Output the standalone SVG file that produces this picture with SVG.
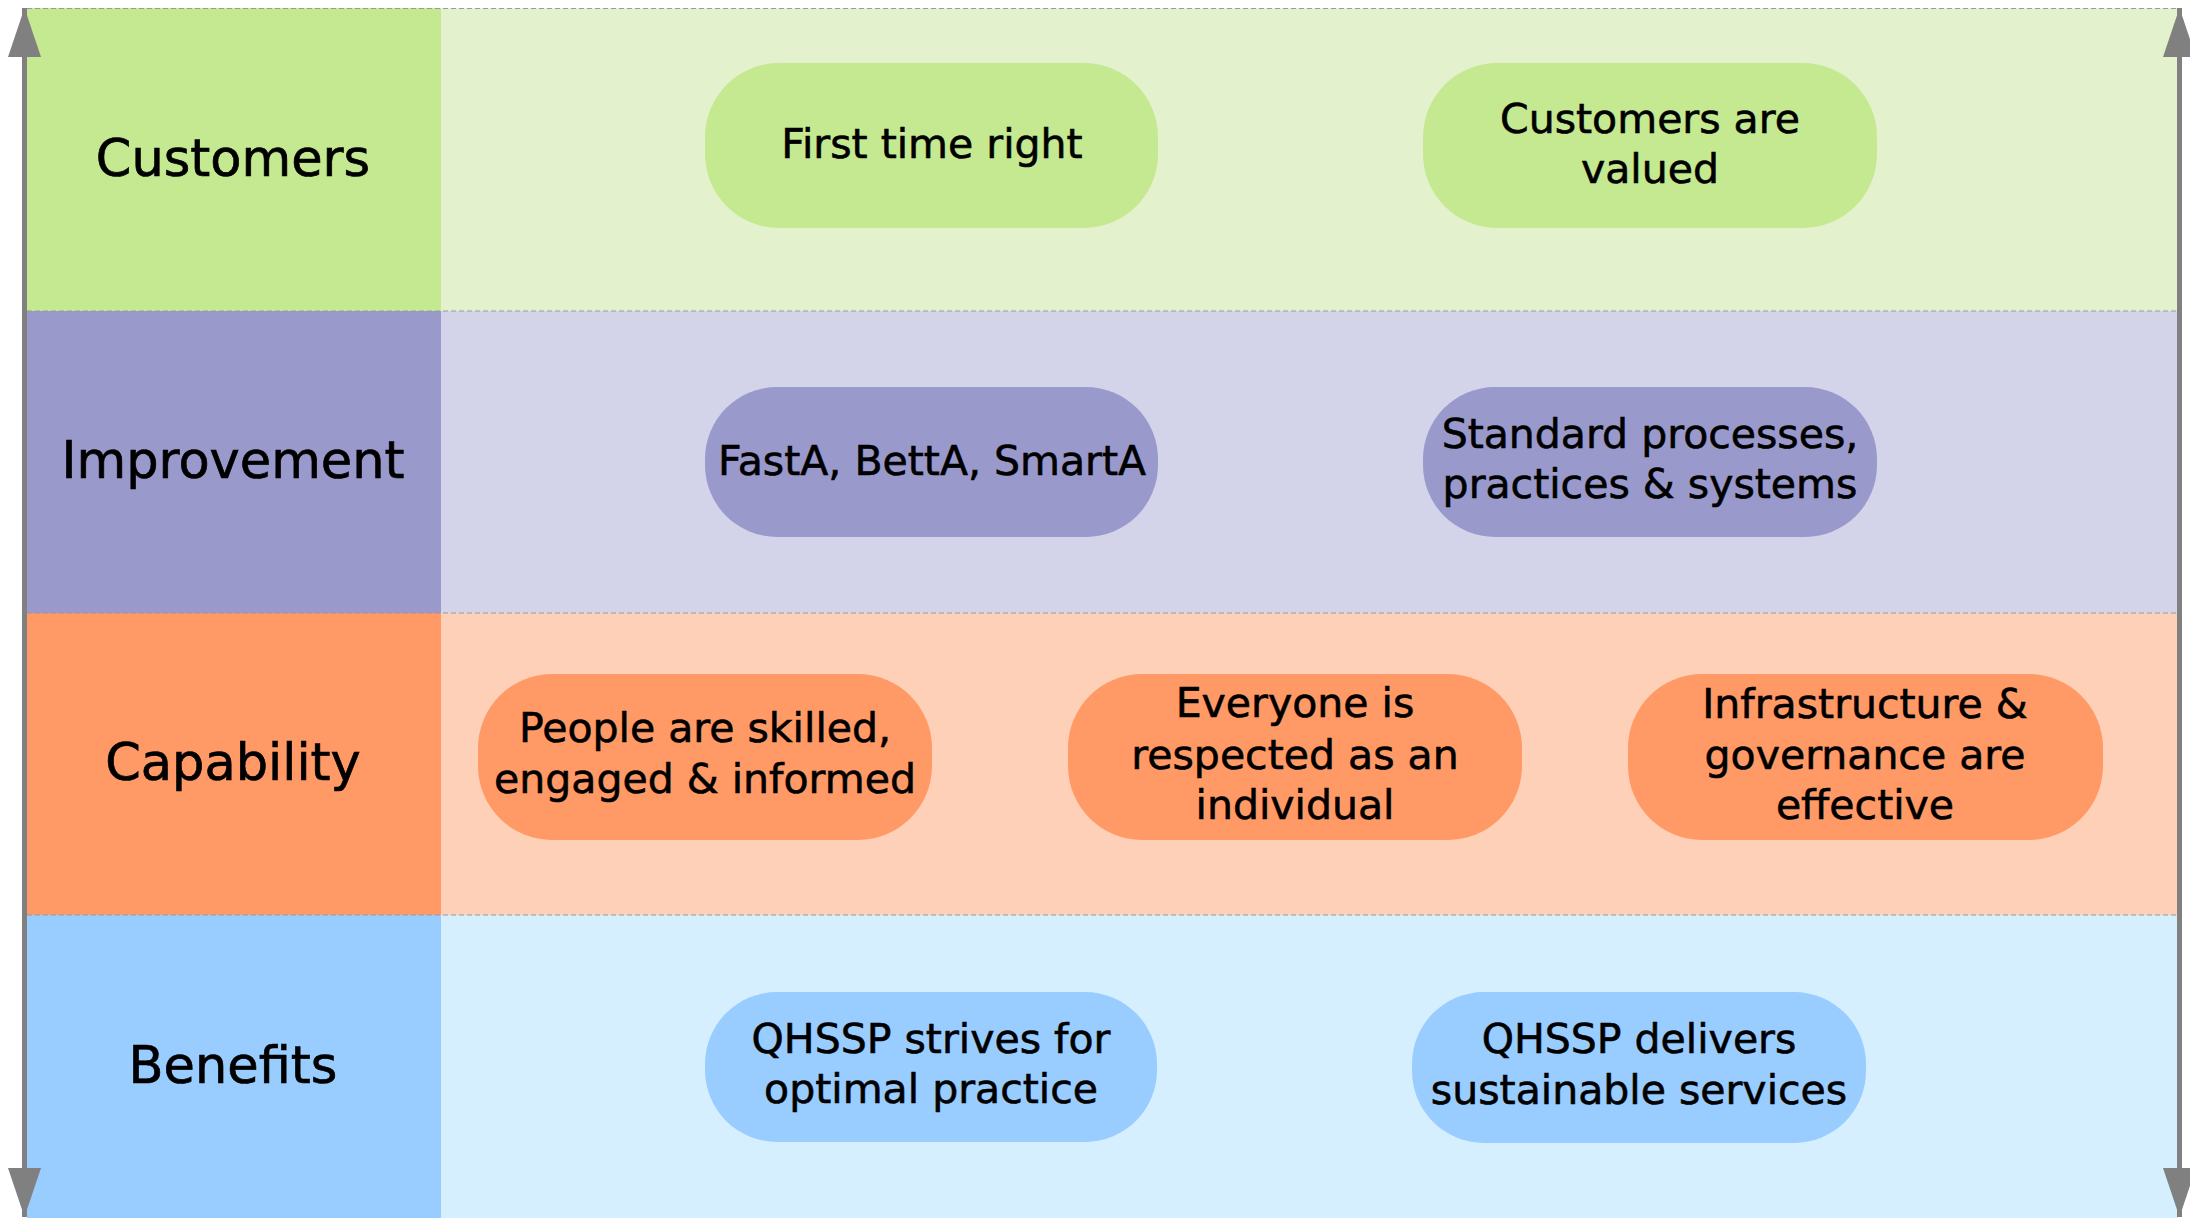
<svg xmlns="http://www.w3.org/2000/svg" width="2190" height="1218" viewBox="0 0 2190 1218">
<style>
.lbl{font-family:"DejaVu Sans","Liberation Sans",sans-serif;font-size:51px;fill:#000;stroke:#000;stroke-width:0.7;text-anchor:middle}
.nt{font-family:"DejaVu Sans","Liberation Sans",sans-serif;font-size:41px;fill:#000;stroke:#000;stroke-width:0.6;text-anchor:middle}
.dash{stroke:#9a9a9a;stroke-width:1.2;stroke-dasharray:5 3;fill:none}
.ax{stroke:#808080;stroke-width:5;fill:none}
.g1{fill:#C5E991}.g2{fill:#E3F2CC}
.p1{fill:#9999CC}.p2{fill:#D3D3EA}
.o1{fill:#FF9966}.o2{fill:#FFD0B8}
.b1{fill:#99CCFF}.b2{fill:#D5EFFF}
</style>
<defs>
<marker id="ah" viewBox="0 0 49 33" refX="49" refY="16.5" markerWidth="49" markerHeight="33" markerUnits="userSpaceOnUse" orient="auto-start-reverse">
<path d="M0,0 L49,16.5 L0,33 Z" fill="#808080"/>
</marker>
</defs>
<rect width="2190" height="1218" fill="#fff"/>
<g id="rows">
<rect class="g1" x="27" y="8" width="414" height="303"/>
<rect class="g2" x="441" y="8" width="1737" height="303"/>
<rect class="p1" x="27" y="311" width="414" height="302"/>
<rect class="p2" x="441" y="311" width="1737" height="302"/>
<rect class="o1" x="27" y="613" width="414" height="302"/>
<rect class="o2" x="441" y="613" width="1737" height="302"/>
<rect class="b1" x="27" y="915" width="414" height="303"/>
<rect class="b2" x="441" y="915" width="1737" height="303"/>
<path class="dash" d="M27,8.5 H2180 M27,311 H2180 M27,613 H2180 M27,915 H2180"/>
</g>
<g id="label-customers"><text class="lbl" x="233" y="176">Customers</text></g>
<g id="label-improvement"><text class="lbl" x="233" y="478">Improvement</text></g>
<g id="label-capability"><text class="lbl" x="233" y="780">Capability</text></g>
<g id="label-benefits"><text class="lbl" x="233" y="1083">Benefits</text></g>
<g id="n-first-time-right">
<rect class="g1" x="705" y="63" width="453" height="165" rx="74"/>
<text class="nt" x="932" y="158">First time right</text>
</g>
<g id="n-customers-valued">
<rect class="g1" x="1423" y="63" width="454" height="165" rx="74"/>
<text class="nt" x="1650" y="133">Customers are</text>
<text class="nt" x="1650" y="183">valued</text>
</g>
<g id="n-fasta">
<rect class="p1" x="705" y="387" width="453" height="150" rx="72"/>
<text class="nt" x="932" y="475">FastA, BettA, SmartA</text>
</g>
<g id="n-standard">
<rect class="p1" x="1423" y="387" width="454" height="150" rx="72"/>
<text class="nt" x="1650" y="448">Standard processes,</text>
<text class="nt" x="1650" y="498">practices &amp; systems</text>
</g>
<g id="n-people">
<rect class="o1" x="478" y="674" width="454" height="166" rx="74"/>
<text class="nt" x="705" y="742">People are skilled,</text>
<text class="nt" x="705" y="793">engaged &amp; informed</text>
</g>
<g id="n-everyone">
<rect class="o1" x="1068" y="674" width="454" height="166" rx="74"/>
<text class="nt" x="1295" y="717">Everyone is</text>
<text class="nt" x="1295" y="769">respected as an</text>
<text class="nt" x="1295" y="819">individual</text>
</g>
<g id="n-infrastructure">
<rect class="o1" x="1628" y="674" width="475" height="166" rx="74"/>
<text class="nt" x="1865" y="718">Infrastructure &amp;</text>
<text class="nt" x="1865" y="769">governance are</text>
<text class="nt" x="1865" y="819">effective</text>
</g>
<g id="n-qhssp-strives">
<rect class="b1" x="705" y="992" width="452" height="150" rx="72"/>
<text class="nt" x="931" y="1053">QHSSP strives for</text>
<text class="nt" x="931" y="1103">optimal practice</text>
</g>
<g id="n-qhssp-delivers">
<rect class="b1" x="1412" y="992" width="454" height="151" rx="72"/>
<text class="nt" x="1639" y="1053">QHSSP delivers</text>
<text class="nt" x="1639" y="1104">sustainable services</text>
</g>
<g id="connectors">
<line class="ax" x1="24.5" y1="8" x2="24.5" y2="1217" marker-start="url(#ah)" marker-end="url(#ah)"/>
<line class="ax" x1="2179.5" y1="8" x2="2179.5" y2="1217" marker-start="url(#ah)" marker-end="url(#ah)"/>
</g>
</svg>
